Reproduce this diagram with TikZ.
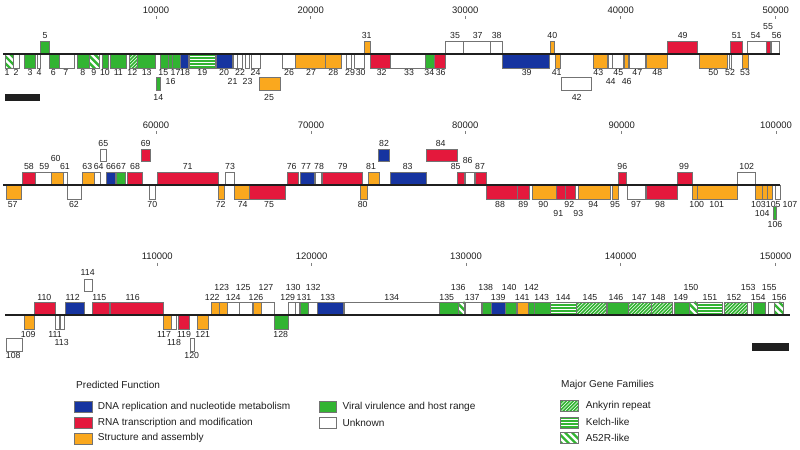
\documentclass[tikz,border=0pt]{standalone}
\usepackage{fontspec}
\setmainfont{Liberation Sans}
\definecolor{dnablue}{RGB}{22,52,160}
\definecolor{rnared}{RGB}{228,24,60}
\definecolor{strorange}{RGB}{250,168,30}
\definecolor{virgreen}{RGB}{50,180,50}
\newcommand\gn[8]{\path[#5] (#1,\rowy+#3) rectangle (#2,\rowy+#4); \node[lab] (g#8) at (#6,\rowy+#7) {#8};}
\newcommand\gnA[6][\yla]{\gn{#2}{#3}{-13}{0}{#4}{#5}{#1}{#6}}
\newcommand\gnB[6][\ylb]{\gn{#2}{#3}{0}{14}{#4}{#5}{#1}{#6}}
\newcommand\gnAA[6][\ylaa]{\gn{#2}{#3}{-36}{-24}{#4}{#5}{#1}{#6}}
\newcommand\gnBB[6][\ylbb]{\gn{#2}{#3}{23.5}{36}{#4}{#5}{#1}{#6}}
\tikzset{
  box/.style={draw=black!55, line width=0.5bp},
  dna/.style={box, fill=dnablue},
  rna/.style={box, fill=rnared},
  str/.style={box, fill=strorange},
  vir/.style={box, fill=virgreen},
  unk/.style={box, fill=white},
  ank/.style={box, fill=virgreen, path picture={\foreach \i in {-16,-12.5,...,110}{\draw[white, line width=0.6bp] ([xshift=\i*1bp]path picture bounding box.south west) -- ++(18bp,18bp);}}},
  kel/.style={box, fill=virgreen, path picture={\foreach \i in {2.8,5.6,8.4,11.2}{\draw[white, line width=0.7bp] ([yshift=\i*1bp]path picture bounding box.south west) -- ([yshift=\i*1bp]path picture bounding box.south east);}}},
  afr/.style={box, fill=white, path picture={\foreach \i in {-16,-9,...,110}{\draw[virgreen, line width=2.4bp] ([xshift=\i*1bp]path picture bounding box.north west) -- ++(18bp,-18bp);}}},
  lab/.style={inner sep=0pt, text=black!88, font=\fontsize{8.8}{9}\selectfont},
  ticklab/.style={inner sep=0pt, text=black!88, font=\fontsize{9.5}{10}\selectfont},
  legtxt/.style={inner sep=0pt, anchor=west, text=black!88, font=\fontsize{10.1}{11}\selectfont},
  tickmark/.style={draw=black!50, line width=0.5bp},
  genome/.style={draw=black!88, line width=2.6bp},
  scalebar/.style={fill=black!88},
}
\begin{document}
\begin{tikzpicture}[x=1bp,y=-1bp]
\useasboundingbox (0,0) rectangle (800,450);
% ---------- tick labels ----------
\foreach \tx/\tl [count=\k] in {156/10000,310.7/20000,465.3/30000,620.7/40000,775.7/50000}{
  \node[ticklab] (ta\k) at (\tx,10) {\tl}; \draw[tickmark] (\tx,16.5) -- (\tx,19);}
\foreach \tx/\tl [count=\k] in {156/60000,311/70000,465.3/80000,621.7/90000,776/100000}{
  \node[ticklab] (tb\k) at (\tx,125) {\tl}; \draw[tickmark] (\tx,131.5) -- (\tx,134);}
\foreach \tx/\tl [count=\k] in {157.3/110000,311.7/120000,466/130000,620.7/140000,775.7/150000}{
  \node[ticklab] (tc\k) at (\tx,256.7) {\tl}; \draw[tickmark] (\tx,263) -- (\tx,266);}
% ---------- row 1 ----------
\def\rowy{54}\def\yla{-18.5}\def\ylA{-27}\def\ylb{18.7}\def\ylB{27}\def\ylaa{-42}\def\ylbb{43.5}
\gnB{5}{13.3}{afr}{7}{1}
\gnB{13.3}{19}{unk}{16}{2}
\gnB{24.3}{35.7}{vir}{30}{3}
\gnB{37.7}{40}{unk}{39}{4}
\gnA{40.3}{49}{vir}{45}{5}
\gnB{49}{59}{vir}{53.3}{6}
\gnB{59}{74}{unk}{65.7}{7}
\gnB{77.3}{89.3}{vir}{82.7}{8}
\gnB{89.3}{99.3}{afr}{93.7}{9}
\gnB{102}{108.3}{vir}{105}{10}
\gnB{110}{126}{vir}{118.3}{11}
\gnB{129.3}{137.3}{ank}{132.3}{12}
\gnB{137.3}{155}{vir}{146.7}{13}
\gnBB{156.7}{160.7}{vir}{158.3}{14}
\gnB{160}{168.3}{vir}{163.3}{15}
\gnB[\ylB]{168.3}{172.5}{vir}{170.5}{16}
\gnB{172.5}{180}{vir}{175.5}{17}
\gnB{180}{188.3}{dna}{185}{18}
\gnB{189}{215}{kel}{202.3}{19}
\gnB{216}{232.3}{dna}{224}{20}
\gnB[\ylB]{233.3}{237.3}{unk}{232.5}{21}
\gnB{237.7}{242.7}{unk}{240}{22}
\gnB[\ylB]{245}{249}{unk}{247.5}{23}
\gnB{251}{260}{unk}{255.5}{24}
\gnBB{259.3}{280}{str}{269}{25}
\gnB{282.3}{295.7}{unk}{289}{26}
\gnB{295.7}{325}{str}{311}{27}
\gnB{325}{341.7}{str}{333.3}{28}
\gnB{346}{351.7}{unk}{350}{29}
\gnB{354}{364}{unk}{360.7}{30}
\gnA{364}{370.7}{str}{366.7}{31}
\gnB{370.7}{390.7}{rna}{381.7}{32}
\gnB{390.7}{425.7}{unk}{409}{33}
\gnB{425.7}{434}{vir}{429.3}{34}
\gnA{445}{463.3}{unk}{455}{35}
\gnB{434}{445}{rna}{440.7}{36}
\gnA{463.3}{490.7}{unk}{477.7}{37}
\gnA{490.7}{502.3}{unk}{496.7}{38}
\gnB{502.3}{549.3}{dna}{526.7}{39}
\gnA{550}{554.3}{str}{552.3}{40}
\gnB{555}{560.7}{str}{556.7}{41}
\gnBB{561}{591}{unk}{576.7}{42}
\gnB{593.3}{607.7}{str}{598.3}{43}
\gnB[\ylB]{608.3}{612.3}{unk}{610.7}{44}
\gnB{612.3}{623.3}{unk}{618.3}{45}
\gnB[\ylB]{624.3}{628.5}{str}{626.7}{46}
\gnB{629}{645.7}{unk}{637.3}{47}
\gnB{646.7}{667.3}{str}{657.3}{48}
\gnA{667.3}{697.7}{rna}{682.7}{49}
\gnB{699}{727.3}{str}{713.3}{50}
\gnA{730.7}{742.3}{rna}{736.7}{51}
\gnB{729}{731.3}{unk}{730}{52}
\gnB{742.3}{748.3}{str}{745}{53}
\gnA{747.3}{766}{unk}{755.7}{54}
\gnA[\ylA]{766}{770.7}{rna}{768}{55}
\gnA{771.7}{779.3}{unk}{776.7}{56}
\coordinate (r1s) at (3,\rowy); \coordinate (r1e) at (780,\rowy);
\draw[genome] (r1s) -- (r1e);
\path[scalebar] (5,94) rectangle (40,100.7);
% ---------- row 2 ----------
\def\rowy{185}\def\yla{-18.3}\def\ylA{-26.7}\def\ylb{19.3}\def\ylB{28.3}\def\ylaa{-42}\def\ylbb{39}
\gnB{6}{21.7}{str}{12.7}{57}
\gnA{22.3}{35}{rna}{29}{58}
\gnA{35}{51}{unk}{44.3}{59}
\gnA[\ylA]{51}{63.3}{str}{55.7}{60}
\gnA{63.3}{67.7}{unk}{65}{61}
\gnB{67.7}{81.7}{unk}{74}{62}
\gnA{82.3}{94.3}{str}{87.3}{63}
\gnA{94.3}{100.7}{unk}{98.7}{64}
\gnAA{100}{106.7}{unk}{103.3}{65}
\gnA{106.7}{115}{dna}{111}{66}
\gnA{116.7}{125.7}{vir}{121}{67}
\gnA{127.3}{142.3}{rna}{135}{68}
\gnAA{141}{150}{rna}{145.7}{69}
\gnB{149.3}{155}{unk}{152.3}{70}
\gnA{157.7}{218.3}{rna}{187.7}{71}
\gnB{218.3}{224}{str}{220.7}{72}
\gnA{225.7}{234.3}{unk}{230}{73}
\gnB{234.3}{249.3}{str}{242.7}{74}
\gnB{249.3}{285.7}{rna}{269}{75}
\gnA{287.7}{298.3}{rna}{291.7}{76}
\gnA{300}{314.3}{dna}{306}{77}
\gnA{315}{321}{unk}{319}{78}
\gnA{322.7}{362.7}{rna}{342.7}{79}
\gnB{360.7}{367.7}{str}{362.7}{80}
\gnA{368.3}{379}{str}{371}{81}
\gnAA{378.3}{389.3}{dna}{384}{82}
\gnA{390.7}{426.7}{dna}{407.7}{83}
\gnAA{426}{457.3}{rna}{440.7}{84}
\gnA{457.3}{464}{rna}{455.7}{85}
\gnA[-25]{465}{474}{unk}{467.7}{86}
\gnA{475.7}{486}{rna}{480}{87}
\gnB{486}{517.3}{rna}{500}{88}
\gnB{517.3}{529.3}{rna}{523.3}{89}
\gnB{532.7}{556.7}{str}{543.3}{90}
\gnB[\ylB]{556.7}{565}{rna}{558.3}{91}
\gnB{565}{575.7}{rna}{569.3}{92}
\gnB[\ylB]{575.7}{578.3}{unk}{578.3}{93}
\gnB{578.3}{610}{str}{593.3}{94}
\gnB{612.3}{618.3}{str}{615}{95}
\gnA{618.3}{626.7}{rna}{622.3}{96}
\gnB{627.3}{645}{unk}{636}{97}
\gnB{646}{677.7}{rna}{660}{98}
\gnA{677.7}{692.7}{rna}{684}{99}
\gnB{692.7}{697.3}{str}{696.7}{100}
\gnB{697.3}{737.7}{str}{716.7}{101}
\gnA{737.7}{755}{unk}{746.7}{102}
\gnB{755.7}{762.3}{str}{758.5}{103}
\gnB[\ylB]{762.3}{767.3}{str}{762.3}{104}
\gnB{767.3}{772.3}{str}{773.3}{105}
\gn{773.5}{776}{21.7}{34}{vir}{775}{39}{106}
\gnB{775.7}{780}{unk}{790}{107}
\coordinate (r2s) at (3,\rowy); \coordinate (r2e) at (780,\rowy);
\draw[genome] (r2s) -- (r2e);
% ---------- row 3 ----------
\def\rowy{315}\def\yla{-17.7}\def\ylA{-27.7}\def\ylb{19}\def\ylB{27.7}\def\ylaa{-42.7}\def\ylbb{40}
\gnBB{6}{22.7}{unk}{13.3}{108}
\gnB{24}{34}{str}{28.3}{109}
\gnA{34}{55}{rna}{44.3}{110}
\gnB{55.7}{59.3}{unk}{55}{111}
\gnA{65}{84.3}{dna}{72.7}{112}
\gnB[\ylB]{60}{64.3}{unk}{61.7}{113}
\gnAA{84}{92.3}{unk}{87.7}{114}
\gnA{92.3}{109.3}{rna}{99.3}{115}
\gnA{110.7}{163.3}{rna}{132.7}{116}
\gnB{163.3}{171}{str}{164}{117}
\gnB[\ylB]{171.7}{176.7}{unk}{174}{118}
\gnB{178.3}{189.3}{rna}{184}{119}
\gnBB{190.7}{194}{unk}{191.7}{120}
\gnB{197.3}{208.3}{str}{202.7}{121}
\gnA{211}{219}{str}{212.3}{122}
\gnA[\ylA]{219}{227.7}{str}{221.7}{123}
\gnA{227.7}{239}{unk}{233.3}{124}
\gnA[\ylA]{239}{252.3}{unk}{243.3}{125}
\gnA{253.3}{261.7}{str}{256}{126}
\gnA[\ylA]{261.7}{274}{unk}{266}{127}
\gnB{274}{288.3}{vir}{280.7}{128}
\gnA{288.3}{295}{unk}{287.7}{129}
\gnA[\ylA]{295.7}{299.3}{unk}{293.3}{130}
\gnA{300.7}{308.3}{vir}{304}{131}
\gnA[\ylA]{308.3}{317.7}{unk}{313.3}{132}
\gnA{317.7}{343.3}{dna}{327.7}{133}
\gnA{344}{439}{unk}{391.7}{134}
\gnA{439}{458.3}{vir}{446.7}{135}
\gnA[\ylA]{458.3}{464.3}{afr}{458.3}{136}
\gnA{465}{481}{unk}{472.3}{137}
\gnA[\ylA]{482.3}{491.7}{vir}{485.7}{138}
\gnA{491.7}{505.7}{dna}{498.3}{139}
\gnA[\ylA]{505.7}{516.7}{vir}{509.3}{140}
\gnA{517.7}{528.3}{str}{522.3}{141}
\gnA[\ylA]{528.3}{534}{vir}{531.5}{142}
\gnA{534}{550}{vir}{541.7}{143}
\gnA{550.7}{576.7}{kel}{563.3}{144}
\gnA{576.7}{606}{ank}{590}{145}
\gnA{607.3}{628.3}{vir}{616}{146}
\gnA{628.3}{651}{ank}{639.3}{147}
\gnA{651}{672.7}{ank}{658.3}{148}
\gnA{674}{689.3}{vir}{680.7}{149}
\gnA[\ylA]{689.3}{697.3}{afr}{691}{150}
\gnA{697.3}{722.7}{kel}{710}{151}
\gnA{724}{747.7}{ank}{734}{152}
\gnA[\ylA]{747.7}{751.7}{unk}{748.3}{153}
\gnA{753.3}{765}{vir}{758.3}{154}
\gnA[\ylA]{768.3}{774}{unk}{769.3}{155}
\gnA{774}{783.3}{afr}{779.3}{156}
\coordinate (r3s) at (5,\rowy); \coordinate (r3e) at (790,\rowy);
\draw[genome] (r3s) -- (r3e);
\path[scalebar] (752,343) rectangle (789,351);
% ---------- legend ----------
\node[legtxt] (lh1) at (76,385) {Predicted Function};
\path[dna] (74,401) rectangle (92.7,412.3);
\node[legtxt] (l1) at (97.7,406.5) {DNA replication and nucleotide metabolism};
\path[rna] (74,417.7) rectangle (92.7,428.3);
\node[legtxt] (l2) at (97.7,422.5) {RNA transcription and modification};
\path[str] (74,433.3) rectangle (92.7,444);
\node[legtxt] (l3) at (97.7,438) {Structure and assembly};
\path[vir] (319,401) rectangle (336.7,412.3);
\node[legtxt] (l4) at (342.3,406.5) {Viral virulence and host range};
\path[unk] (319,417.7) rectangle (336.7,428.3);
\node[legtxt] (l5) at (342.3,422.5) {Unknown};
\node[legtxt] (lh2) at (561,385) {Major Gene Families};
\path[ank] (560,400.5) rectangle (578.3,411);
\node[legtxt] (l6) at (585.7,405.5) {Ankyrin repeat};
\path[kel] (560,417) rectangle (578.3,428);
\node[legtxt] (l7) at (585.7,422) {Kelch-like};
\path[afr] (560,432.5) rectangle (578.3,443);
\node[legtxt] (l8) at (585.7,437.5) {A52R-like};
\end{tikzpicture}
\end{document}
